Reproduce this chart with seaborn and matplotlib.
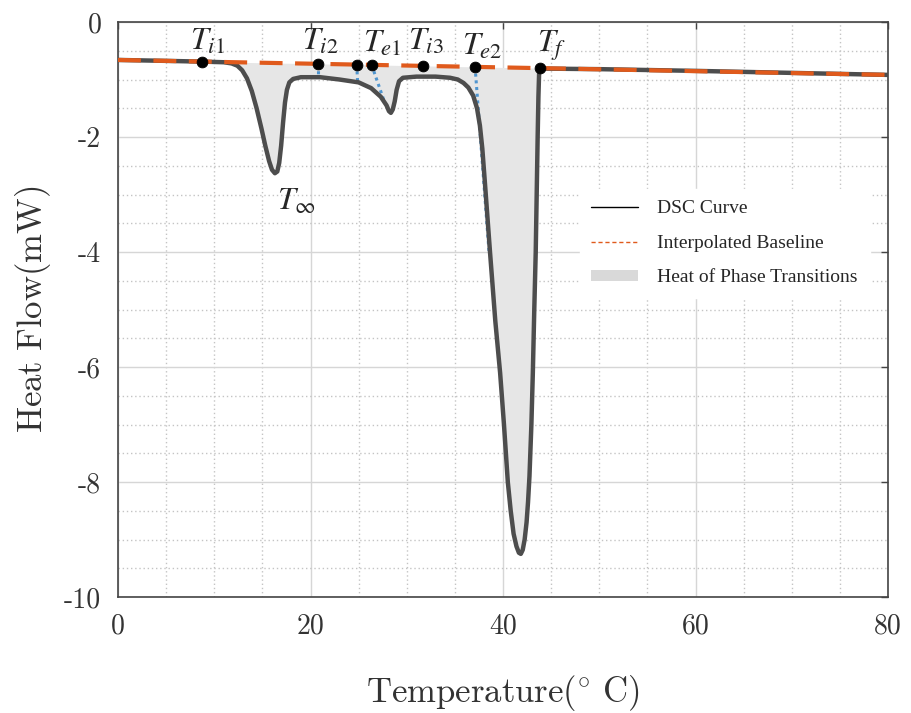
import matplotlib
matplotlib.use("Agg")
import matplotlib.pyplot as plt
import seaborn as sns
import numpy as np
import pandas as pd
from matplotlib.lines import Line2D
from matplotlib.patches import Patch

# ---- data ----
dsc_temp = [0, 5, 9, 11, 11.8, 12.4, 12.9, 13.4, 13.9, 14.4, 14.9, 15.3, 15.7, 16.0,
            16.3, 16.55, 16.75, 16.95, 17.15, 17.35, 17.55, 17.8, 18.2, 19, 21, 23,
            25, 26.3, 27.3, 27.9, 28.15, 28.35, 28.55, 28.75, 28.95, 29.2, 29.6, 31,
            33, 34.5, 35.3, 35.9, 36.4, 36.9, 37.3, 37.6, 37.85, 38.1, 38.65, 39.2,
            39.7, 40.1, 40.5, 40.8, 41.1, 41.4, 41.65, 41.85, 42.05, 42.25, 42.45,
            42.6, 42.75, 42.95, 43.1, 43.25, 43.4, 43.5, 43.6, 43.68, 43.75, 43.85,
            50, 60, 70, 80]
dsc_flow = [-0.66, -0.676, -0.69, -0.70, -0.72, -0.76, -0.84, -0.98, -1.20, -1.50,
            -1.85, -2.15, -2.42, -2.57, -2.63, -2.60, -2.45, -2.15, -1.75, -1.40,
            -1.18, -1.05, -0.99, -0.96, -0.96, -1.00, -1.05, -1.15, -1.30, -1.45,
            -1.55, -1.58, -1.52, -1.38, -1.18, -1.03, -0.97, -0.95, -0.95, -0.97,
            -1.00, -1.06, -1.14, -1.28, -1.50, -1.80, -2.20, -2.75, -4.0, -5.2,
            -6.1, -7.0, -8.0, -8.5, -8.9, -9.12, -9.23, -9.25, -9.18, -9.0, -8.7,
            -8.35, -7.9, -7.0, -6.1, -5.0, -4.0, -3.0, -2.0, -1.3, -0.9, -0.81,
            -0.82, -0.85, -0.885, -0.92]

baseline_temp = [0, 80]
baseline_flow = [-0.66, -0.92]

point_names = [r"$T_{i1}$", r"$T_{i2}$", "", r"$T_{e1}$", r"$T_{i3}$", r"$T_{e2}$", r"$T_f$"]
point_temp = [8.7, 20.8, 24.8, 26.35, 31.65, 37.1, 43.85]
point_flow = [-0.688, -0.728, -0.741, -0.746, -0.763, -0.781, -0.803]
label_temp = [7.5, 19.1, None, 25.5, 30.1, 35.7, 43.5]
label_flow = [-0.49, -0.49, None, -0.52, -0.49, -0.57, -0.52]

peak_label = r"$T_{\infty}$"
peak_label_temp = 16.5
peak_label_flow = -3.27

tangent_temp = [[20.8, 20.8], [24.8, 24.9], [26.35, 27.6], [37.1, 38.55]]
tangent_flow = [[-0.728, -0.96], [-0.741, -1.05], [-0.746, -1.35], [-0.781, -4.0]]

x_ticks = [0, 20, 40, 60, 80]
x_tick_labels = ["0", "20", "40", "60", "80"]
y_ticks = [0, -2, -4, -6, -8, -10]
y_tick_labels = ["0", "-2", "-4", "-6", "-8", "-10"]

legend_labels = ["DSC Curve", "Interpolated Baseline", "Heat of Phase Transitions"]

# ---- figure ----
sns.set_style("white")
fig = plt.figure(figsize=(9.11, 7.13), dpi=100)
ax = fig.add_axes([118 / 911, 1 - 597 / 713, 770 / 911, 575 / 713])

dsc = pd.DataFrame({"T": dsc_temp, "HF": dsc_flow})
base = pd.DataFrame({"T": baseline_temp, "HF": baseline_flow})

t_arr = np.array(dsc_temp)
f_arr = np.array(dsc_flow)
b_arr = np.interp(t_arr, baseline_temp, baseline_flow)
mask = (t_arr >= point_temp[0]) & (t_arr <= point_temp[-1])
ax.fill_between(t_arr, f_arr, b_arr, where=mask, color="#e6e6e6", lw=0, zorder=1)

for tx, ty in zip(tangent_temp, tangent_flow):
    ax.plot(tx, ty, color="#4f95cf", lw=2.2, ls=(0, (1, 1.2)), zorder=2)

sns.lineplot(data=dsc, x="T", y="HF", ax=ax, color="#4d4d4d", lw=3.2, zorder=3)
sns.lineplot(data=base, x="T", y="HF", ax=ax, color="#e05a1c", lw=3.0,
             dashes=False, zorder=4)
ax.lines[-1].set_dashes((5.5, 3))

sns.scatterplot(x=point_temp, y=point_flow, ax=ax, color="black", s=60,
                edgecolor="black", zorder=6)

for name, tx, ty in zip(point_names, label_temp, label_flow):
    if name:
        ax.text(tx, ty, name, fontsize=23, math_fontfamily="stix",
                ha="left", va="baseline", zorder=7)
ax.text(peak_label_temp, peak_label_flow, peak_label, fontsize=23,
        math_fontfamily="stix", ha="left", va="baseline", zorder=7)

ax.set_xlim(0, 80)
ax.set_ylim(-10, 0)
ax.set_xticks(x_ticks, labels=x_tick_labels)
ax.set_yticks(y_ticks, labels=y_tick_labels)
ax.set_xticks(np.arange(0, 81, 5), minor=True)
ax.set_yticks(np.arange(-10, 0.01, 0.5), minor=True)
ax.grid(which="major", color="#d6d6d6", lw=1.0, ls="-", zorder=0)
ax.grid(which="minor", color="#c4c4c4", lw=1.0, ls=(0, (1, 2)), zorder=0)
ax.set_axisbelow(True)

for lab in ax.get_xticklabels() + ax.get_yticklabels():
    lab.set_fontfamily("cmr10")
    lab.set_fontsize(20)
    lab.set_color("#333333")
ax.tick_params(which="major", direction="in", length=5, width=1, color="#444444",
               top=True, right=True, pad=12)
ax.tick_params(which="minor", length=0)
for sp in ax.spines.values():
    sp.set_color("#444444")
    sp.set_linewidth(1.2)

ax.set_xlabel(r"$\mathrm{Temperature(^{\circ}\ C)}$", fontsize=25,
              math_fontfamily="cm", color="#333333", labelpad=24)
ax.set_ylabel(r"$\mathrm{Heat\ Flow(mW)}$", fontsize=25,
              math_fontfamily="cm", color="#333333", labelpad=8)

handles = [Line2D([], [], color="black", lw=1.0),
           Line2D([], [], color="#e05a1c", lw=1.0, ls=(0, (3, 2))),
           Patch(facecolor="#d9d9d9", edgecolor="none")]
leg = ax.legend(handles, legend_labels, loc="upper left",
                bbox_to_anchor=(0.587, 0.727), frameon=True, facecolor="white",
                edgecolor="white", framealpha=1, fancybox=False,
                prop={"family": "Liberation Serif", "size": 14},
                handlelength=2.4, handleheight=0.45, labelspacing=0.9,
                handletextpad=1.0, borderpad=0.6)
leg.set_zorder(8)

fig.savefig("out.png", dpi=100)
